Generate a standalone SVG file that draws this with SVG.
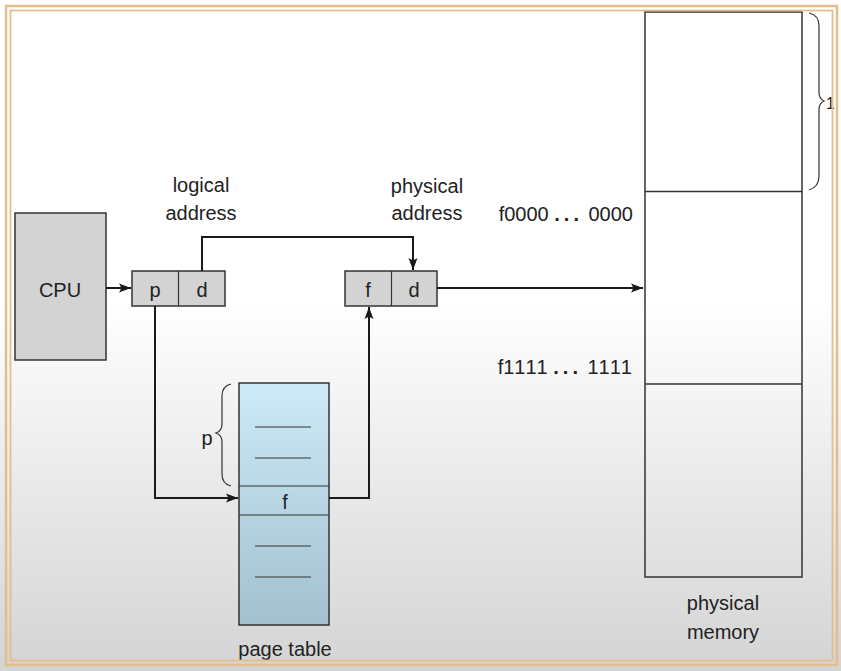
<svg xmlns="http://www.w3.org/2000/svg" width="841" height="671" viewBox="0 0 841 671">
<defs>
<linearGradient id="bg" x1="0" y1="0" x2="0" y2="1">
<stop offset="0" stop-color="#ffffff"/>
<stop offset="0.45" stop-color="#ffffff"/>
<stop offset="1" stop-color="#d4d4d4"/>
</linearGradient>
<linearGradient id="pt" x1="0" y1="0" x2="0" y2="1">
<stop offset="0" stop-color="#cdeaf7"/>
<stop offset="1" stop-color="#a3c0cf"/>
</linearGradient>
<marker id="ah" viewBox="0 0 12 10" refX="12" refY="5" markerWidth="12" markerHeight="10" markerUnits="userSpaceOnUse" orient="auto">
<path d="M0,0.5 L12,5 L0,9.5 L2.5,5 Z" fill="#1a1a1a"/>
</marker>
<style>
text{font-family:"Liberation Sans",Arial,sans-serif;font-size:20px;fill:#222;}
.mid{text-anchor:middle;}
.end{text-anchor:end;}
.nk{font-kerning:none;}
.dots{font-weight:bold;letter-spacing:4px;}
.box{fill:#d3d3d3;stroke:#333;stroke-width:1.5;}
.mem{fill:none;stroke:#333;stroke-width:1.5;}
.ln{fill:none;stroke:#1a1a1a;stroke-width:2;}
.thin{fill:none;stroke:#333;stroke-width:1.2;}
.frame{fill:none;stroke:#e3bd8c;}
</style>
</defs>
<rect x="0" y="0" width="841" height="671" fill="url(#bg)"/>

<g id="cpu">
<rect class="box" x="15" y="213" width="91" height="147"/>
<text class="mid" x="60" y="297">CPU</text>
</g>

<g id="logical-address">
<rect class="box" x="132" y="271" width="93" height="35"/>
<line class="thin" x1="178.5" y1="271" x2="178.5" y2="306"/>
<text class="mid" x="155" y="297">p</text>
<text class="mid" x="202" y="297">d</text>
<text class="mid" x="201" y="192">logical</text>
<text class="mid" x="201" y="220">address</text>
</g>

<g id="physical-address">
<rect class="box" x="345" y="271" width="92" height="35"/>
<line class="thin" x1="391.5" y1="271" x2="391.5" y2="306"/>
<text class="mid" x="368" y="297">f</text>
<text class="mid" x="414" y="297">d</text>
<text class="mid" x="427" y="193">physical</text>
<text class="mid" x="427" y="220">address</text>
</g>

<g id="page-table">
<rect x="239" y="383" width="90" height="242" fill="url(#pt)" stroke="#333" stroke-width="1.5"/>
<line class="thin" x1="239" y1="486" x2="329" y2="486"/>
<line class="thin" x1="239" y1="515" x2="329" y2="515"/>
<line class="thin" x1="255" y1="427" x2="311" y2="427"/>
<line class="thin" x1="255" y1="458" x2="311" y2="458"/>
<line class="thin" x1="255" y1="546" x2="311" y2="546"/>
<line class="thin" x1="255" y1="577" x2="311" y2="577"/>
<text class="mid" x="285" y="509">f</text>
<path class="thin" d="M231,384 Q222,386 222,396 L222,424 Q222,431 216,433 Q222,435 222,442 L222,474 Q222,484 231,486" stroke-width="1"/>
<text class="mid" x="207" y="445">p</text>
<text class="mid" x="285" y="656">page table</text>
</g>

<g id="physical-memory">
<rect class="mem" x="645" y="12" width="157" height="565"/>
<line class="mem" x1="645" y1="191.5" x2="802" y2="191.5"/>
<line class="mem" x1="645" y1="384" x2="802" y2="384"/>
<text class="end nk" x="633" y="221">f0000 <tspan class="dots">...</tspan> 0000</text>
<text class="end nk" x="632" y="374">f1111 <tspan class="dots">...</tspan> 1111</text>
<path class="thin" d="M809,13 Q819,15 819,26 L819,92 Q819,99 824,101 Q819,103 819,110 L819,176 Q819,187 809,190" stroke-width="1"/>
<text x="826" y="109" style="font-size:16px">1</text>
<text class="mid" x="723" y="610">physical</text>
<text class="mid" x="723" y="639">memory</text>
</g>

<g id="connectors">
<line class="ln" x1="106" y1="288" x2="131" y2="288" marker-end="url(#ah)"/>
<polyline class="ln" points="202,271 202,237 413,237 413,270" marker-end="url(#ah)"/>
<line class="ln" x1="437" y1="288" x2="643" y2="288" marker-end="url(#ah)"/>
<polyline class="ln" points="155,306 155,498 238,498" marker-end="url(#ah)"/>
<polyline class="ln" points="329,498 369,498 369,307" marker-end="url(#ah)"/>
</g>

<g id="frame">
<rect class="frame" x="6" y="6" width="831" height="659" stroke-width="2.5"/>
<rect class="frame" x="10.5" y="10.5" width="822" height="650" stroke-width="1.8"/>
</g>
</svg>
